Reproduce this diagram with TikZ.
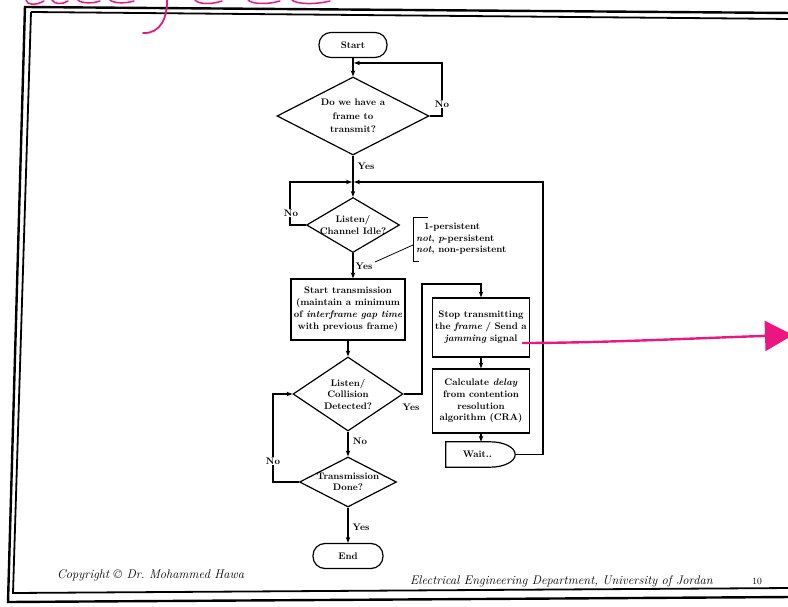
\documentclass[tikz,border=0pt]{standalone}
\usepackage{fontspec}
\usetikzlibrary{shapes.geometric,arrows.meta,calc}
\definecolor{pinkink}{RGB}{236,22,128}
\begin{document}
\begin{tikzpicture}[x=1pt,y=-1pt,
  every node/.style={font=\fontsize{9.5}{11}\selectfont\bfseries},
  box/.style={draw, line width=1.2pt, rectangle, inner sep=0pt, align=center},
  term/.style={box, rounded corners=12pt},
  dia/.style={draw, line width=1.2pt, diamond, inner sep=0pt},
  lbl/.style={align=center, inner sep=0pt},
  arr/.style={line width=1.1pt, -{Stealth[length=6pt,width=4.5pt]}},
  ln/.style={line width=1.1pt},
  yn/.style={inner sep=1pt, fill=white},
  foot/.style={font=\fontsize{12.5}{14}\selectfont\itshape, anchor=west, inner sep=0pt}
]
\useasboundingbox (0,0) rectangle (788,607);
% frame
\draw[line width=2.4pt] (25,7) -- (792,13);
\draw[line width=2.4pt] (25,6) -- (8,602) -- (792,597);
\draw[line width=1.8pt] (31,12) -- (792,19);
\draw[line width=1.8pt] (31,12) -- (13,593) -- (792,588);
% handwriting remains
\draw[pinkink, line width=1.8pt, line cap=round] (167,-2) .. controls (168,18) and (160,34) .. (143,33);
\draw[pinkink, line width=1.5pt, line cap=round] (26,0) .. controls (27,5) and (35,6) .. (44,1);
\draw[pinkink, line width=1.5pt, line cap=round] (52,0) .. controls (54,4) and (62,5) .. (68,1);
\draw[pinkink, line width=1.5pt, line cap=round] (78,0) .. controls (80,3) and (92,4) .. (100,1);
\draw[pinkink, line width=1.5pt, line cap=round] (110,0) .. controls (113,3) and (124,4) .. (134,1);
\draw[pinkink, line width=1.5pt, line cap=round] (195,0) .. controls (198,4) and (210,5) .. (222,1);
\draw[pinkink, line width=1.5pt, line cap=round] (248,0) .. controls (252,4) and (266,5) .. (280,1);
\draw[pinkink, line width=1.5pt, line cap=round] (292,0) .. controls (296,4) and (314,5) .. (330,1);

% nodes
\node[term, minimum width=68pt, minimum height=25pt] (start) at (353,45) {Start};
\coordinate (j1) at (353,63);
\node[dia, minimum width=152pt, minimum height=78pt] (d1) at (353,116) {};
\node[lbl, font=\fontsize{9.5}{13.5}\selectfont\bfseries] (d1t) at (d1) {Do we have a\\frame to\\transmit?};
\coordinate (j2) at (353,182);
\node[dia, minimum width=93pt, minimum height=55pt] (d2) at (353,225) {};
\node[lbl, font=\fontsize{9.5}{12}\selectfont\bfseries] (d2t) at (d2) {Listen/\\Channel Idle?};
\node[box, minimum width=114pt, minimum height=61pt, font=\fontsize{9.5}{11.8}\selectfont\bfseries] (tx) at (348,309.5)
  {Start transmission\\(maintain a minimum\\of \textit{interframe gap time}\\with previous frame)};
\node[dia, minimum width=110pt, minimum height=74pt] (d3) at (348,394) {};
\node[lbl, font=\fontsize{9.5}{11.5}\selectfont\bfseries] (d3t) at (d3) {Listen/\\Collision\\Detected?};
\node[dia, minimum width=97pt, minimum height=50pt] (d4) at (348,482) {};
\node[lbl, font=\fontsize{9.5}{11.5}\selectfont\bfseries] (d4t) at (d4) {Transmission\\Done?};
\node[term, minimum width=70pt, minimum height=25pt] (end) at (348,556) {End};
\node[box, minimum width=97pt, minimum height=59pt, font=\fontsize{9.5}{12}\selectfont\bfseries] (stop) at (481,327.5)
  {Stop transmitting\\the \textit{frame} / Send a\\\textit{jamming} signal};
\node[box, minimum width=97pt, minimum height=64pt, font=\fontsize{9.5}{11.8}\selectfont\bfseries] (calc) at (481,401)
  {Calculate \textit{delay}\\from contention\\resolution\\algorithm (CRA)};
\node[inner sep=0pt, minimum width=69pt, minimum height=25pt, text width=60pt, align=center] (wait) at (480.5,454.5) {\hspace*{-6pt}Wait..};
\draw[line width=1.2pt] (wait.north west) -- ($(wait.north east)+(-25,0)$)
  .. controls ($(wait.north east)+(-11,0)$) and ($(wait.east)+(0,-7)$) .. (wait.east)
  .. controls ($(wait.east)+(0,7)$) and ($(wait.south east)+(-11,0)$) .. ($(wait.south east)+(-25,0)$)
  -- (wait.south west) -- cycle;

% connectors
\coordinate (c1) at (442,63);
\coordinate (c2) at (290,182);
\coordinate (c3) at (422,284);
\coordinate (c4) at (543,182);
\coordinate (c5) at (273,394);
\draw[ln] (start.south) -- (j1);
\draw[arr] (j1) -- (d1.north);
\draw[arr] (d1.east) -- (d1.east -| c1) -- (c1) -- ($(j1)+(1,0)$);
\node[yn] (no1) at (442,104) {No};
\draw[ln] (d1.south) -- (j2);
\node (yes1) at (366,166) {Yes};
\draw[arr] (j2) -- (d2.north);
\draw[arr] (d2.west) -- (d2.west -| c2) -- (c2) -- ($(j2)+(-1,0)$);
\node[yn] (no2) at (291,213) {No};
\draw[arr] (d2.south) -- (d2.south |- tx.north);
\node (yes2) at (364,266) {Yes};
\draw[arr] (tx.south) -- (d3.north);
\draw[arr] (d3.east) -- (d3.east -| c3) -- (c3) -- (c3 -| stop.north) -- (stop.north);
\node (yes3) at (411,407) {Yes};
\draw[arr] (stop.south) -- (calc.north);
\draw[arr] (calc.south) -- (calc.south |- wait.north);
\draw[arr] (wait.east) -- (wait.east -| c4) -- (c4) -- ($(j2)+(1,0)$);
\draw[arr] (d3.south) -- (d4.north);
\node (no3) at (360,441) {No};
\draw[arr] (d4.west) -- (d4.west -| c5) -- (c5) -- (d3.west);
\node[yn] (no4) at (273,461) {No};
\draw[arr] (d4.south) -- (end.north);
\node (yes4) at (361,527) {Yes};

% annotation
\node[anchor=west, align=left, inner sep=0pt, font=\fontsize{9.5}{11.5}\selectfont\bfseries] (pers) at (416,239)
  {\hspace*{8pt}1-persistent\\\textit{not}, \textit{p}-persistent\\\textit{not}, non-persistent};
\coordinate (a1) at (375,262);
\coordinate (a2) at (413,245);
\draw[line width=0.8pt] (a1) -- (a2);
\draw[line width=0.8pt] (428,217) -- (413,217) -- (413,261) -- (419,261);

% pink arrow
\coordinate (pk1) at (522,343);
\coordinate (pk2) at (793,335);
\draw[pinkink, line width=2.4pt, -{Triangle[length=28pt,width=30pt]}] (pk1) .. controls (600,343) and (700,338) .. (pk2);

% footer
\node[foot] (copy) at (57,575) {Copyright © Dr.\ Mohammed Hawa};
\node[foot] (dept) at (410,581) {Electrical Engineering Department, University of Jordan};
\node[font=\fontsize{9.5}{11}\selectfont, inner sep=0pt] (pg) at (757,581) {10};
\end{tikzpicture}
\end{document}
